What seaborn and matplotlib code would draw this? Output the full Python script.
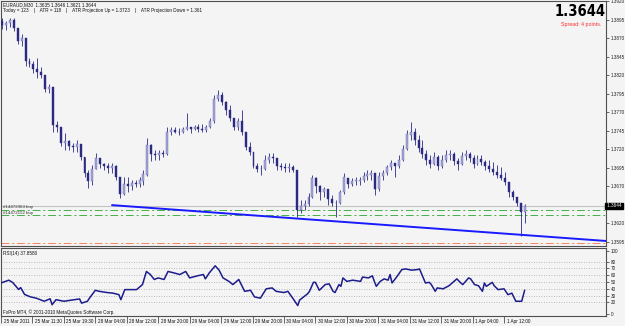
import matplotlib
matplotlib.use("Agg")
import matplotlib.pyplot as plt
import matplotlib.transforms as mtrans
from matplotlib import font_manager
import numpy as np
import pandas as pd
import seaborn as sns

# ---------------- data (prices in points above 1.3000) ----------------
first_open = 894
highs = [897, 894, 898, 897, 884, 876, 870, 844, 840, 844, 831, 820, 809, 804, 758, 750, 742, 733, 729, 733,
         727, 710, 692, 699, 715, 708, 702, 702, 702, 699, 683, 683, 683, 679, 679, 683, 692, 736, 728, 719,
         719, 719, 750, 750, 750, 749, 750, 769, 750, 753, 755, 755, 753, 763, 793, 800, 797, 786, 780, 763,
         762, 773, 743, 730, 716, 702, 699, 712, 715, 715, 708, 702, 702, 702, 699, 692, 652, 652, 661, 685,
         683, 672, 669, 666, 659, 652, 665, 688, 682, 681, 683, 683, 689, 692, 692, 688, 689, 692, 699, 706,
         702, 712, 726, 746, 757, 749, 739, 733, 719, 712, 716, 712, 712, 719, 719, 716, 708, 716, 719, 716,
         712, 712, 712, 706, 706, 703, 699, 696, 689, 676, 665, 656, 648, 646]
lows = [883, 881, 886, 880, 863, 860, 833, 831, 823, 817, 816, 797, 796, 743, 744, 725, 719, 719, 716, 716,
        706, 683, 668, 672, 693, 695, 692, 688, 688, 679, 655, 658, 663, 665, 669, 669, 672, 684, 705, 706,
        706, 710, 712, 739, 742, 739, 742, 746, 742, 746, 743, 743, 743, 749, 756, 786, 780, 766, 759, 746,
        746, 739, 719, 712, 695, 689, 686, 692, 702, 702, 692, 692, 689, 689, 689, 629, 634, 638, 643, 654,
        661, 652, 656, 645, 643, 629, 646, 660, 668, 670, 672, 672, 676, 679, 679, 659, 664, 679, 686, 692,
        683, 695, 704, 719, 733, 726, 716, 708, 699, 695, 699, 692, 695, 703, 706, 699, 692, 699, 706, 703,
        695, 699, 699, 692, 689, 685, 682, 679, 672, 656, 652, 643, 603, 621]
closes = [888, 891, 895, 884, 867, 870, 840, 836, 828, 824, 820, 801, 804, 753, 750, 729, 731, 725, 723, 727,
          710, 688, 678, 693, 708, 701, 697, 695, 698, 683, 660, 673, 670, 675, 674, 678, 686, 726, 714, 712,
          715, 714, 744, 746, 744, 743, 747, 750, 748, 750, 747, 746, 750, 758, 788, 793, 784, 773, 763, 750,
          758, 743, 723, 716, 698, 693, 694, 706, 710, 708, 698, 696, 695, 696, 692, 638, 643, 646, 656, 681,
          670, 663, 666, 653, 648, 648, 662, 682, 674, 677, 678, 679, 684, 686, 688, 666, 684, 688, 696, 702,
          698, 706, 720, 740, 744, 733, 722, 714, 706, 701, 710, 698, 706, 712, 714, 704, 700, 711, 714, 708,
          700, 707, 703, 698, 694, 690, 686, 682, 676, 662, 656, 648, 635, 644]

# RSI(14): (half-hour bar index, value)
rsi_t = [0, 4, 6, 9, 10, 12, 15, 18, 22, 25, 26, 28, 32, 35, 40, 41, 44, 45, 48, 50, 54, 57, 60, 61, 63, 65,
         69, 72, 74, 76, 78, 80, 83, 85, 88, 91, 94, 96, 100, 103, 104, 106, 109, 111, 113, 116, 118, 121,
         124, 127, 129, 132, 135, 138, 140, 144, 146, 149, 151, 152, 156, 157, 159, 160, 162, 165, 167, 169,
         170, 172, 173, 174, 176, 179, 183, 184, 187, 189, 190, 191, 193, 195, 197, 198, 199, 201, 204, 206,
         209, 212, 213, 216, 218, 219, 221, 222, 225, 228, 232, 234, 235, 238, 239, 241, 243, 245, 246, 247,
         250, 251, 253, 256, 258, 260, 262, 265, 266.5]
rsi_v = [48.6, 52.7, 49.1, 39.0, 41.8, 31.7, 28.1, 26.2, 21.7, 25.3, 16.6, 24.0, 21.7, 23.0, 25.1, 18.9,
         21.7, 26.2, 37.8, 36.3, 34.5, 33.6, 31.4, 24.0, 38.8, 38.8, 38.8, 46.2, 65.5, 61.0, 53.7, 56.0,
         53.7, 65.5, 63.4, 61.0, 65.5, 56.0, 59.1, 61.0, 54.6, 63.4, 73.8, 67.4, 56.0, 50.9, 46.2, 53.7,
         36.3, 37.8, 28.1, 26.2, 40.0, 41.3, 36.3, 34.5, 36.3, 24.0, 15.3, 23.5, 32.6, 36.3, 49.5, 49.5,
         37.8, 46.2, 47.3, 36.3, 34.5, 46.2, 43.6, 56.0, 50.9, 52.7, 50.9, 57.3, 56.0, 59.1, 50.9, 43.6,
         50.9, 54.6, 52.7, 61.0, 48.6, 56.0, 68.3, 69.2, 67.4, 68.3, 69.2, 48.6, 49.5, 46.2, 36.3, 41.3,
         40.0, 44.5, 54.6, 48.6, 46.2, 56.0, 54.6, 46.2, 44.5, 36.3, 48.6, 43.6, 49.5, 44.5, 38.8, 40.0,
         31.4, 33.6, 21.7, 21.7, 37.9]

time_label_pos = [0, 16, 32, 48, 64, 80, 96, 112, 128, 144, 160, 176, 192, 208, 224, 240, 256]
time_labels = ['25 Mar 2011', '25 Mar 11:30', '25 Mar 19:30', '28 Mar 04:00', '28 Mar 12:00',
               '28 Mar 20:00', '29 Mar 04:00', '29 Mar 12:00', '29 Mar 20:00', '30 Mar 04:00',
               '30 Mar 12:00', '30 Mar 20:00', '31 Mar 04:00', '31 Mar 12:00', '31 Mar 20:00',
               '1 Apr 04:00', '1 Apr 12:00']

bid = 1.3644
order_levels = [1.3638, 1.3631]
order_names = ['#14472363 buy', '#14472152 buy']
stop_level = 1.35937
trend_t = [56.5, 307.9]
trend_p = [1.36448, 1.35964]
rsi_levels = [20, 30, 40, 50, 60, 70, 80]

# ---------------- build ----------------
to_price = lambda v: 1.3 + np.asarray(v, dtype=float) / 10000.0
c = to_price(closes)
o = to_price([first_open] + closes[:-1])
h = to_price(highs)
l = to_price(lows)
n = len(c)
t = np.arange(n) * 2 + 0.5
df = pd.DataFrame({'t': t, 'open': o, 'high': h, 'low': l, 'close': c})
rsi_df = pd.DataFrame({'t': rsi_t, 'rsi': rsi_v})

W, H = 625, 326
BG = '#f4f4f4'
sns.set_theme(style='white')
plt.rcParams['font.family'] = ['Liberation Sans', 'DejaVu Sans']
plt.rcParams['axes.facecolor'] = BG

fig = plt.figure(figsize=(W / 100, H / 100), dpi=100, facecolor=BG)


def fx(px):
    return px / W


def fy(py):
    return 1 - py / H


ax = fig.add_axes([fx(1), fy(246), fx(605), (246 - 1) / H])
ax2 = fig.add_axes([fx(1), fy(316), fx(605), (316 - 248) / H])
for a in (ax, ax2):
    a.set_facecolor(BG)
    a.set_xlim(0, 307.9)
    for s in a.spines.values():
        s.set_color('#505050')
        s.set_linewidth(0.8)

ax.set_ylim(1.35896, 1.39205)
ax2.set_ylim(0, 100)

NAVY = '#2a2a82'
# candles
ax.vlines(df['t'], df['low'], df['high'], color=NAVY, lw=0.6, zorder=3)
bull = df['close'] >= df['open']
ax.bar(df['t'][bull], (df['close'] - df['open'])[bull] + 0.00002, bottom=df['open'][bull], width=1.0,
       color='#a6a6d6', edgecolor='#6a6ab0', linewidth=0.3, zorder=4)
ax.bar(df['t'][~bull], (df['close'] - df['open'])[~bull], bottom=df['open'][~bull], width=1.0,
       color=NAVY, edgecolor=NAVY, linewidth=0.3, zorder=4)

# horizontal levels
ax.axhline(bid, color='#c4c4c4', lw=0.8, zorder=2)
for lv in order_levels:
    ax.axhline(lv, color='#45b045', lw=0.7, linestyle=(0, (8, 3, 2, 3)), zorder=2)
ax.axhline(stop_level, color='#ff8060', lw=0.7, linestyle=(0, (8, 3, 2, 3)), zorder=2)

# trend line
sns.lineplot(x=trend_t, y=trend_p, ax=ax, color='#1a1aff', lw=1.4, errorbar=None, zorder=5)

# price axis
ax.yaxis.tick_right()
yt = [round(1.3595 + 0.0025 * i, 4) for i in range(14)]
yt = [v for v in yt if abs(v - 1.3645) > 1e-6]
ax.set_yticks(yt)
ax.set_yticklabels([f'{v:.4f}' for v in yt])
ax.tick_params(axis='y', right=True, left=False, length=2, width=0.6, color='#505050',
               labelsize=3.3, pad=1.5, labelcolor='#202020')
ax.set_xticks([])
ax.set_xlabel('')
ax.set_ylabel('')
ax.text(1.0, bid, ' 1.3644 ', transform=mtrans.blended_transform_factory(ax.transAxes, ax.transData),
        ha='left', va='center', fontsize=3.3, color='white',
        bbox=dict(boxstyle='square,pad=0.15', fc='black', ec='black'), clip_on=False)

# texts on main panel
fig.text(fx(3), fy(4.5), 'EURAUD,M30  1.3635 1.3646 1.3621 1.3644', fontsize=3.3, va='center', color='#101010')
fig.text(fx(3), fy(10.5),
         'Today = 123    |    ATR = 118    |    ATR Projection Up = 1.3723    |    ATR Projection Down = 1.361',
         fontsize=3.3, va='center', color='#101010')
for nm, py in zip(order_names, [207, 213]):
    fig.text(fx(3), fy(py), nm, fontsize=3.2, va='center', color='#303030')

names = {f.name for f in font_manager.fontManager.ttflist}
if 'Liberation Sans Narrow' in names:
    big_fam, big_size = ['Liberation Sans Narrow'], 13
else:
    big_fam, big_size = ['DejaVu Sans'], 10.5
fig.text(fx(606), fy(11.5), '1.3644', fontsize=big_size, fontweight='bold', family=big_fam,
         fontstretch='condensed', ha='right', va='center', color='black')
fig.text(fx(601), fy(24.5), 'Spread: 4 points.', fontsize=3.8, ha='right', va='center', color='#ff2a2a')

# RSI panel
for lv in rsi_levels:
    ax2.axhline(lv, color='#a8a8a8', lw=0.6, linestyle=(0, (1, 2)), zorder=1)
sns.lineplot(data=rsi_df, x='t', y='rsi', ax=ax2, color='#1c1c8c', lw=1.1, errorbar=None, zorder=3)
ax2.set_xlabel('')
ax2.set_ylabel('')
ax2.yaxis.tick_right()
ax2.set_yticks([3.4, 20, 30, 40, 50, 60, 70, 80, 95.5])
ax2.set_yticklabels(['0', '20', '30', '40', '50', '60', '70', '80', '100'])
ax2.tick_params(axis='y', right=True, left=False, length=2, width=0.6, color='#505050',
                labelsize=3.3, pad=1.5, labelcolor='#202020')
ax2.set_xticks(time_label_pos)
ax2.set_xticklabels([])
ax2.tick_params(axis='x', bottom=True, length=5, width=0.6, color='#505050', direction='out')
fig.text(fx(3), fy(253), 'RSI(14) 37.8580', fontsize=3.3, va='center', color='#101010')
fig.text(fx(3), fy(312.5), 'FxPro MT4, \u00a9 2001-2010 MetaQuotes Software Corp.', fontsize=3.3,
         va='center', color='#101010')
bt = mtrans.blended_transform_factory(ax2.transData, fig.transFigure)
off = mtrans.ScaledTranslation(2.5 / 100, 0, fig.dpi_scale_trans)
for p, lab in zip(time_label_pos, time_labels):
    ax2.text(p, fy(322.8), lab, transform=bt + off, ha='left', va='baseline', fontsize=3.3,
             color='#101010', clip_on=False)

fig.savefig('out.png', dpi=100, facecolor=BG)
